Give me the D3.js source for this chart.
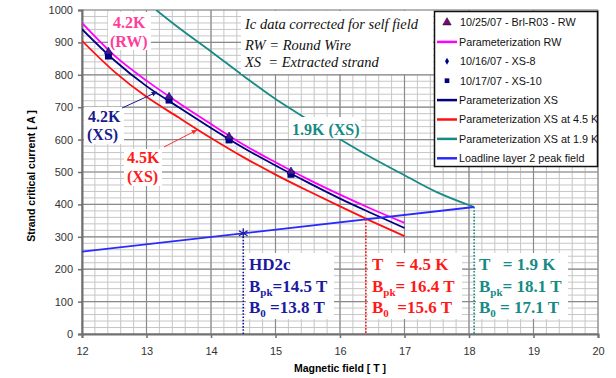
<!DOCTYPE html>
<html lang="en">
<head>
	<meta charset="utf-8">
	<title>Strand critical current vs magnetic field</title>
	<script src="https://d3js.org/d3.v7.min.js"></script>
	<style>
	body { margin: 0; background: #fff; }
	svg text { font-family: "Liberation Sans", Arial, sans-serif; }
	.serif { font-family: "Liberation Serif", "Times New Roman", serif !important; }
	</style>
</head>
<body>
	<div id="chart"></div>
	<script>
		// tick labels
		let fieldTicks = [12, 13, 14, 15, 16, 17, 18, 19, 20];
		let currentTicks = [0, 100, 200, 300, 400, 500, 600, 700, 800, 900, 1000];

		// parameterization curves [B (T), Ic (A)]
		let paramRW = [[12,960],[12.5,860],[13,782],[13.5,713],[14,648],[14.5,585],[15,530],[15.5,478],[16,430],[16.5,385],[17,343]];
		let paramXS = [[12,941],[12.5,845],[13,765],[13.5,700],[14,636],[14.5,575],[15,520],[15.5,468],[16,418],[16.5,372],[17,327]];
		let paramXS45 = [[12,905],[12.5,810],[13,732],[13.5,668],[14,605],[14.5,546],[15,492],[15.5,442],[16,394],[16.5,347],[17,302]];
		let paramXS19 = [[13.15,1000],[13.5,945],[14,872],[14.5,797],[15,725],[15.5,662],[16,601],[16.5,543],[17,490],[17.5,438],[18.08,392]];
		let loadline = [[12,254],[18.08,392]];

		// measured points
		let dataField = [12.41, 13.35, 14.28, 15.24];
		let rwCurrent = [871, 732, 609, 501];
		let xs8Current = [862, 725, 602, 496];
		let xs10Current = [858, 722, 599, 493];

		// operating points on the loadline
		let hd2cPoint = [14.5, 311];
		let point45 = [16.4, 354];
		let point19 = [18.08, 392];

		let xSize = 616;
		let ySize = 378;

		let svg = d3.select("#chart")
					.append("svg")
					.attr("width", xSize)
					.attr("height", ySize);

		let x = d3.scaleLinear().domain([12, 20]).range([82, 598]);
		let y = d3.scaleLinear().domain([0, 1000]).range([334, 10]);

		// minor grid
		let grid = svg.append("g");
		grid.selectAll("line.vmin")
			.data(d3.range(12, 20.01, 0.2))
			.enter().append("line")
			.attr("x1", d => x(d)).attr("x2", d => x(d))
			.attr("y1", y(0)).attr("y2", y(1000))
			.attr("stroke", "#c6c6c6").attr("stroke-width", 1);
		grid.selectAll("line.hmin")
			.data(d3.range(0, 1000.1, 20))
			.enter().append("line")
			.attr("x1", x(12)).attr("x2", x(20))
			.attr("y1", d => y(d)).attr("y2", d => y(d))
			.attr("stroke", "#c6c6c6").attr("stroke-width", 1);
		// major grid
		grid.selectAll("line.vmaj")
			.data(fieldTicks)
			.enter().append("line")
			.attr("x1", d => x(d)).attr("x2", d => x(d))
			.attr("y1", y(0)).attr("y2", y(1000))
			.attr("stroke", "#8a8a8a").attr("stroke-width", 1.2);
		grid.selectAll("line.hmaj")
			.data(currentTicks)
			.enter().append("line")
			.attr("x1", x(12)).attr("x2", x(20))
			.attr("y1", d => y(d)).attr("y2", d => y(d))
			.attr("stroke", "#8a8a8a").attr("stroke-width", 1.2);

		// axes
		let xAxis = svg.append("g")
			.attr("transform", "translate(0," + y(0) + ")")
			.call(d3.axisBottom(x).tickValues(fieldTicks).tickSize(4).tickPadding(9).tickFormat(d3.format("d")));
		let yAxis = svg.append("g")
			.attr("transform", "translate(" + x(12) + ",0)")
			.call(d3.axisLeft(y).tickValues(currentTicks).tickSize(4).tickPadding(5).tickFormat(d3.format("d")));
		[xAxis, yAxis].forEach(a => {
			a.selectAll("path").attr("stroke", "#707070").attr("stroke-width", 2);
			a.selectAll("line").attr("stroke", "#707070").attr("stroke-width", 1.5);
			a.selectAll("text").attr("fill", "#333").style("font-size", "11px")
				.style("font-family", "'Liberation Sans', Arial, sans-serif");
		});

		svg.append("text")
			.attr("x", 340).attr("y", 372)
			.attr("text-anchor", "middle")
			.style("font-size", "10.5px").style("font-weight", "bold")
			.text("Magnetic field [ T ]");
		svg.append("text")
			.attr("transform", "translate(35,176) rotate(-90)")
			.attr("text-anchor", "middle")
			.style("font-size", "10.5px").style("font-weight", "bold")
			.text("Strand critical current [ A ]");

		// clip to plot area
		svg.append("clipPath").attr("id", "plotClip")
			.append("rect")
			.attr("x", x(12)).attr("y", y(1000))
			.attr("width", x(20) - x(12)).attr("height", y(0) - y(1000));

		// curves
		let line = d3.line()
			.x(d => x(d[0]))
			.y(d => y(d[1]))
			.curve(d3.curveMonotoneX);

		let curves = svg.append("g").attr("clip-path", "url(#plotClip)");
		let series = [
			{ data: paramXS19, color: "#168a84" },
			{ data: paramXS45, color: "#ff1010" },
			{ data: paramXS, color: "#000080" },
			{ data: paramRW, color: "#ff00ff" },
			{ data: loadline, color: "#2a2aff" }
		];
		series.forEach(s => {
			curves.append("path")
				.datum(s.data)
				.attr("fill", "none")
				.attr("stroke", s.color)
				.attr("stroke-width", 1.8)
				.attr("d", line);
		});

		// white label boxes (they sit on top of the curves)
		let boxes = svg.append("g");
		function whiteBox(x0, y0, w, h) {
			boxes.append("rect")
				.attr("x", x0).attr("y", y0).attr("width", w).attr("height", h)
				.attr("fill", "#fff");
		}
		whiteBox(241, 11, 192, 63);     // note box
		whiteBox(108, 12, 43, 38);      // 4.2K (RW)
		whiteBox(84, 107, 40, 37);      // 4.2K (XS)
		whiteBox(124, 149, 38, 37);     // 4.5K (XS)
		whiteBox(289, 117, 72, 22);     // 1.9K (XS)
		whiteBox(246, 253, 88, 66);     // HD2c
		whiteBox(368, 253, 94, 66);     // 4.5 K
		whiteBox(476, 253, 92, 66);     // 1.9 K

		// dotted verticals down from the operating points
		let drops = [
			{ p: hd2cPoint, color: "#1a1aa0" },
			{ p: point45, color: "#ff1a1a" },
			{ p: point19, color: "#168a84" }
		];
		drops.forEach(dp => {
			svg.append("line")
				.attr("x1", x(dp.p[0])).attr("x2", x(dp.p[0]))
				.attr("y1", y(dp.p[1])).attr("y2", y(0))
				.attr("stroke", dp.color)
				.attr("stroke-width", 1.6)
				.attr("stroke-dasharray", "1.6,1.6");
		});

		// star on the HD2c point
		svg.append("path")
			.attr("transform", "translate(" + x(hd2cPoint[0]) + "," + y(hd2cPoint[1]) + ")")
			.attr("d", d3.symbol().type(d3.symbolAsterisk).size(70)())
			.attr("fill", "none")
			.attr("stroke", "#1a1aa0")
			.attr("stroke-width", 1.3);

		// measured markers
		let markers = svg.append("g");
		dataField.forEach((b, i) => {
			markers.append("rect")
				.attr("x", x(b) - 3.5).attr("y", y(xs10Current[i]) - 3.5)
				.attr("width", 7).attr("height", 7)
				.attr("fill", "#000080");
			markers.append("path")
				.attr("transform", "translate(" + x(b) + "," + y(xs8Current[i]) + ")")
				.attr("d", d3.symbol().type(d3.symbolDiamond).size(18)())
				.attr("fill", "#000080");
			markers.append("path")
				.attr("transform", "translate(" + x(b) + "," + y(rwCurrent[i]) + ")")
				.attr("d", d3.symbol().type(d3.symbolTriangle).size(28)())
				.attr("fill", "#4a1a8a")
				.attr("stroke", "#000080")
				.attr("stroke-width", 0.6);
		});

		// arrows from labels to curves
		svg.append("defs").selectAll("marker")
			.data([["arrNavy", "#1a1a8c"], ["arrRed", "#ff3030"]])
			.enter().append("marker")
			.attr("id", d => d[0])
			.attr("viewBox", "0 0 10 10")
			.attr("refX", 9).attr("refY", 5)
			.attr("markerWidth", 6).attr("markerHeight", 6)
			.attr("orient", "auto")
			.append("path")
			.attr("d", "M0,1L10,5L0,9Z")
			.attr("fill", d => d[1]);
		svg.append("line")
			.attr("x1", 122).attr("y1", 108).attr("x2", 157).attr("y2", 92)
			.attr("stroke", "#1a1a8c").attr("stroke-width", 1)
			.attr("marker-end", "url(#arrNavy)");
		svg.append("line")
			.attr("x1", 164).attr("y1", 147).attr("x2", 197).attr("y2", 130)
			.attr("stroke", "#ff3030").attr("stroke-width", 1)
			.attr("marker-end", "url(#arrRed)");

		// curve labels
		function serifText(tx, ty, str, color, size, bold, italic) {
			return svg.append("text")
				.attr("class", "serif")
				.attr("x", tx).attr("y", ty)
				.attr("fill", color)
				.style("font-size", size + "px")
				.style("font-weight", bold ? "bold" : "normal")
				.style("font-style", italic ? "italic" : "normal")
				.style("white-space", "pre")
				.text(str);
		}
		serifText(113, 28, "4.2K", "#ff3d9a", 16, true);
		serifText(110, 47, "(RW)", "#ff3d9a", 16, true);
		serifText(88, 122, "4.2K", "#1a1a8c", 16, true);
		serifText(87, 140, "(XS)", "#1a1a8c", 16, true);
		serifText(127, 163, "4.5K", "#ff1a1a", 16, true);
		serifText(127, 182, "(XS)", "#ff1a1a", 16, true);
		serifText(292, 135, "1.9K (XS)", "#168a84", 16, true);

		// italic note
		serifText(245, 29, "Ic data corrected for self field", "#111", 14.5, false, true);
		serifText(245, 50, "RW = Round Wire", "#111", 14.5, false, true);
		serifText(245, 67, "XS  = Extracted strand", "#111", 14.5, false, true);

		// operating point annotations
		function subLine(tx, ty, sub, rest, color) {
			let t = serifText(tx, ty, "B", color, 17, true);
			t.append("tspan").attr("dy", 4).style("font-size", "11px").text(sub);
			t.append("tspan").attr("dy", -4).text(rest);
		}
		serifText(249, 270, "HD2c", "#1a1aa0", 17, true);
		subLine(249, 292, "pk", "=14.5 T", "#1a1aa0");
		subLine(249, 313, "0", " =13.8 T", "#1a1aa0");

		serifText(372, 270, "T   = 4.5 K", "#ff1a1a", 17, true);
		subLine(372, 292, "pk", "= 16.4 T", "#ff1a1a");
		subLine(372, 313, "0", "  =15.6 T", "#ff1a1a");

		serifText(479, 270, "T   = 1.9 K", "#168a84", 17, true);
		subLine(479, 292, "pk", "= 18.1 T", "#168a84");
		subLine(479, 313, "0", " = 17.1 T", "#168a84");

		// legend
		let legendItems = [
			{ label: "10/25/07 - Brl-R03 - RW", kind: "triangle", color: "#800080" },
			{ label: "Parameterization RW", kind: "line", color: "#ff00ff" },
			{ label: "10/16/07 - XS-8", kind: "diamond", color: "#000080" },
			{ label: "10/17/07 - XS-10", kind: "square", color: "#000080" },
			{ label: "Parameterization XS", kind: "line", color: "#000080" },
			{ label: "Parameterization XS at 4.5 K", kind: "line", color: "#ff1010" },
			{ label: "Parameterization XS at 1.9 K", kind: "line", color: "#168a84" },
			{ label: "Loadline layer 2 peak field", kind: "line", color: "#2a2aff" }
		];
		svg.append("clipPath").attr("id", "legClip")
			.append("rect").attr("x", 434).attr("y", 11).attr("width", 163).attr("height", 156);
		let legend = svg.append("g");
		legend.append("rect")
			.attr("x", 434.5).attr("y", 11.5).attr("width", 163).attr("height", 155)
			.attr("fill", "#fff").attr("stroke", "#111").attr("stroke-width", 1.5);
		let legendBody = legend.append("g").attr("clip-path", "url(#legClip)");
		legendItems.forEach((d, i) => {
			let ly = 22.5 + i * 19.4;
			if (d.kind === "line") {
				legendBody.append("line")
					.attr("x1", 437).attr("x2", 457).attr("y1", ly).attr("y2", ly)
					.attr("stroke", d.color).attr("stroke-width", 2.5);
			} else {
				let type = d.kind === "triangle" ? d3.symbolTriangle : (d.kind === "diamond" ? d3.symbolDiamond : d3.symbolSquare);
				let size = d.kind === "triangle" ? 30 : (d.kind === "diamond" ? 14 : 22);
				legendBody.append("path")
					.attr("transform", "translate(447," + ly + ")")
					.attr("d", d3.symbol().type(type).size(size)())
					.attr("fill", d.color)
					.attr("stroke", d.kind === "triangle" ? "#111" : "none")
					.attr("stroke-width", 0.6);
			}
			legendBody.append("text")
				.attr("x", d.kind === "line" ? 459 : 460)
				.attr("y", ly + 3.8)
				.attr("fill", "#111")
				.style("font-size", "10.8px")
				.text(d.label);
		});
	</script>
</body>
</html>
